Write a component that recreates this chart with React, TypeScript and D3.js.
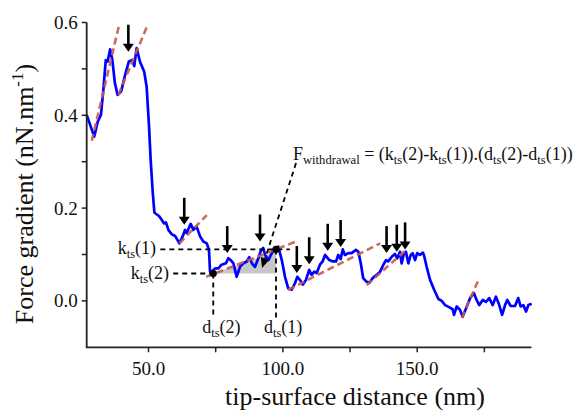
import React from "react";
import * as d3 from "d3";

// ---- data ----
const distance = [
  27.0, 29.8, 31.1, 32.3, 33.2, 34.1, 34.8, 35.7, 36.5, 37.5, 38.5, 39.8, 41.3, 42.7, 44.0, 44.7, 45.6, 46.8, 48.4, 49.3,
  50.2, 50.8, 51.6, 52.2, 53.9, 54.9, 55.8, 56.5, 57.4, 58.6, 59.9, 61.5, 62.7, 63.6, 64.2, 65.7, 66.7, 67.9, 69.2, 70.4,
  71.7, 72.5, 72.9, 73.5, 74.8, 76.0, 77.2, 78.8, 79.7, 80.6, 81.6, 82.8, 84.1, 85.3, 86.6, 87.5, 88.5, 89.6, 90.9, 91.8,
  92.7, 93.4, 94.6, 95.9, 96.7, 97.7, 98.3, 99.6, 100.8, 102.0, 103.3, 104.5, 105.4, 106.4, 107.4, 108.6, 109.8, 110.7,
  111.7, 112.6, 113.8, 114.8, 115.7, 116.3, 117.3, 118.6, 119.8, 120.6, 121.5, 122.3, 123.1, 124.4, 125.6, 127.2, 128.1,
  129.0, 129.9, 131.0, 132.2, 133.4, 134.9, 136.2, 137.4, 138.4, 139.2, 140.5, 141.7, 142.6, 143.6, 144.2, 145.1, 145.8,
  146.7, 147.6, 148.3, 149.2, 150.0, 151.0, 152.1, 152.5, 153.5, 154.8, 156.3, 157.9, 159.1, 160.4, 162.0, 163.2, 163.7,
  164.7, 165.9, 166.9, 168.2, 169.7, 171.1, 172.1, 173.1, 174.4, 175.6, 176.8, 178.1, 179.3, 180.3, 181.6, 182.7, 183.5,
  184.8, 186.4, 187.6, 188.5, 189.5, 190.5, 191.4, 192.6,
];
const gradient = [
  0.401, 0.354, 0.386, 0.401, 0.455, 0.519, 0.516, 0.542, 0.521, 0.469, 0.444, 0.451, 0.487, 0.516, 0.519, 0.506, 0.545, 0.516, 0.494, 0.462,
  0.376, 0.304, 0.232, 0.19, 0.183, 0.175, 0.167, 0.169, 0.153, 0.144, 0.14, 0.124, 0.139, 0.153, 0.146, 0.166, 0.153, 0.16, 0.139, 0.128,
  0.124, 0.11, 0.063, 0.063, 0.07, 0.07, 0.078, 0.081, 0.092, 0.088, 0.081, 0.052, 0.074, 0.081, 0.085, 0.094, 0.081, 0.073, 0.092, 0.108,
  0.114, 0.099, 0.088, 0.103, 0.111, 0.11, 0.117, 0.088, 0.052, 0.027, 0.024, 0.038, 0.052, 0.045, 0.035, 0.045, 0.067, 0.056,
  0.063, 0.06, 0.078, 0.085, 0.099, 0.095, 0.088, 0.085, 0.085, 0.099, 0.09, 0.111, 0.099, 0.103, 0.103, 0.11, 0.106,
  0.081, 0.049, 0.042, 0.039, 0.049, 0.056, 0.063, 0.078, 0.088, 0.085, 0.095, 0.101, 0.092, 0.106, 0.081, 0.103, 0.106,
  0.081, 0.099, 0.103, 0.088, 0.103, 0.099, 0.104, 0.099, 0.074, 0.045, 0.024, 0.004, 0.0, -0.009, -0.014, -0.018, -0.03,
  -0.012, -0.019, -0.034, -0.016, 0.006, 0.017, 0.002, -0.009, 0.002, -0.002, 0.006, -0.009, 0.009, -0.005, -0.03, -0.009, 0.002,
  -0.011, -0.011, 0.006, -0.012, -0.009, -0.023, -0.009, -0.006,
];

// linear fits (dashed red): [x1, y1, x2, y2]
const fitX1 = [28.9, 38.8, 61.5, 71.5, 102.0, 131.2, 166.6];
const fitY1 = [0.345, 0.444, 0.124, 0.052, 0.024, 0.034, -0.037];
const fitX2 = [39.0, 49.7, 71.7, 104.5, 136.2, 146.1, 172.7];
const fitY2 = [0.593, 0.595, 0.185, 0.127, 0.124, 0.111, 0.044];

// arrows: x position and tip value
const arrowX = [42.5, 63.3, 79.3, 91.5, 105.2, 109.8, 116.7, 121.5, 138.6, 142.4, 145.5];
const arrowTip = [0.537, 0.164, 0.103, 0.128, 0.06, 0.079, 0.108, 0.116, 0.103, 0.106, 0.111];

// annotation values
const kts1 = 0.111;
const kts2 = 0.059;
const dts1 = 97.45;
const dts2 = 74.1;
const kts1LineFrom = 54.4;
const kts1LineTo = 102.6;
const kts2LineFrom = 59.2;
const dtsLineBottom = -0.037;
const bigArrowFrom = [104.9, 0.297];
const bigArrowTo = [92.25, 0.071];

const xMajor = [50, 100, 150];
const xMinor = [75, 125, 175];
const yMajor = [0, 0.2, 0.4, 0.6];
const yMinor = [0.1, 0.3, 0.5];

const W = 588;
const H = 418;
const FONT = "'Liberation Serif', 'Times New Roman', serif";

export default function App() {
  const x = d3.scaleLinear().domain([27, 192.5]).range([86.7, 531.4]);
  const y = d3.scaleLinear().domain([-0.1, 0.6]).range([347.3, 22.5]);

  const pts: [number, number][] = distance.map((d, i) => [d, gradient[i]]);
  const line = d3
    .line<[number, number]>()
    .x((p) => x(p[0]))
    .y((p) => y(p[1]));

  const gray = `M${x(dts2)},${y(kts2)} L${x(dts1)},${y(kts1) + 2} L${x(dts1)},${y(kts2)} Z`;

  const bx1 = x(bigArrowFrom[0]);
  const by1 = y(bigArrowFrom[1]);
  const bx2 = x(bigArrowTo[0]);
  const by2 = y(bigArrowTo[1]);
  const ang = Math.atan2(by2 - by1, bx2 - bx1);
  const hl = 10;
  const hw = 4.5;
  const baseX = bx2 - hl * Math.cos(ang);
  const baseY = by2 - hl * Math.sin(ang);
  const px = -Math.sin(ang);
  const py = Math.cos(ang);

  const axisColor = "#222";
  const red = "#c85a50";

  return (
    <svg
      width={W}
      height={H}
      style={{ position: "absolute", left: 0, top: 0, background: "#fff" }}
      fontFamily={FONT}
    >
      {/* gray shaded area */}
      <path d={gray} fill="#bdbdbd" opacity={0.85} />

      {/* data line */}
      <path d={line(pts) || ""} fill="none" stroke="#0000ff" strokeWidth={2.7} strokeLinejoin="round" />

      {/* fits */}
      {fitX1.map((fx, i) => (
        <line
          key={"f" + i}
          x1={x(fx)}
          y1={y(fitY1[i])}
          x2={x(fitX2[i])}
          y2={y(fitY2[i])}
          stroke={red}
          strokeWidth={2.6}
          strokeDasharray="7,4"
          opacity={0.9}
        />
      ))}

      {/* black dashed guides */}
      <g stroke="#000" strokeWidth={1.8} strokeDasharray="5,4" fill="none">
        <line x1={x(kts1LineFrom)} y1={y(kts1)} x2={x(kts1LineTo)} y2={y(kts1)} />
        <line x1={x(kts2LineFrom)} y1={y(kts2)} x2={x(dts2)} y2={y(kts2)} />
        <line x1={x(dts2)} y1={y(kts2)} x2={x(dts2)} y2={y(dtsLineBottom)} />
        <line x1={x(dts1)} y1={y(kts1)} x2={x(dts1)} y2={y(dtsLineBottom)} />
        <line x1={bx1} y1={by1} x2={baseX} y2={baseY} />
      </g>
      <path
        d={`M${bx2},${by2} L${baseX + px * hw},${baseY + py * hw} L${baseX - px * hw},${baseY - py * hw} Z`}
        fill="#000"
      />
      <circle cx={x(dts2)} cy={y(kts2)} r={3.6} fill="#000" />
      <circle cx={x(dts1)} cy={y(kts1)} r={3.6} fill="#000" />

      {/* arrows */}
      {arrowX.map((ax, i) => {
        const cx = x(ax);
        const ty = y(arrowTip[i]);
        return (
          <g key={"a" + i}>
            <line x1={cx} y1={ty - 27} x2={cx} y2={ty - 7} stroke="#000" strokeWidth={2.6} />
            <path d={`M${cx - 5.5},${ty - 8} L${cx + 5.5},${ty - 8} L${cx},${ty} Z`} fill="#000" />
          </g>
        );
      })}

      {/* axes */}
      <line x1={x(27)} y1={y(0.6)} x2={x(27)} y2={y(-0.1)} stroke={axisColor} strokeWidth={1.8} />
      <line x1={x(27) - 0.9} y1={y(-0.1)} x2={x(192.5)} y2={y(-0.1)} stroke={axisColor} strokeWidth={1.8} />
      {yMajor.concat(yMinor).map((t) => (
        <line key={"yt" + t} x1={x(27) - 5} y1={y(t)} x2={x(27)} y2={y(t)} stroke={axisColor} strokeWidth={1.5} />
      ))}
      {xMajor.concat(xMinor).map((t) => (
        <line key={"xt" + t} x1={x(t)} y1={y(-0.1)} x2={x(t)} y2={y(-0.1) + 5} stroke={axisColor} strokeWidth={1.5} />
      ))}
      {yMajor.map((t) => (
        <text key={"yl" + t} x={x(27) - 9} y={y(t) + 6.5} fontSize={19} textAnchor="end" fill="#111">
          {t.toFixed(1)}
        </text>
      ))}
      {xMajor.map((t) => (
        <text key={"xl" + t} x={x(t)} y={374.5} fontSize={19} textAnchor="middle" fill="#111">
          {t.toFixed(1)}
        </text>
      ))}

      {/* axis titles */}
      <text x={355} y={405} fontSize={26} textAnchor="middle" fill="#111">
        tip-surface distance (nm)
      </text>
      <text transform="translate(33,194) rotate(-90)" fontSize={26} textAnchor="middle" fill="#111">
        Force gradient (nN.nm
        <tspan fontSize={17} dy={-10}>-1</tspan>
        <tspan dy={10}>)</tspan>
      </text>

      {/* annotation labels */}
      <g fontSize={18} fill="#111">
        <text x={156} y={y(kts1) + 5} textAnchor="end">
          k<tspan fontSize={12.5} dy={4}>ts</tspan>
          <tspan dy={-4}>(1)</tspan>
        </text>
        <text x={169} y={y(kts2) + 5.5} textAnchor="end">
          k<tspan fontSize={12.5} dy={4}>ts</tspan>
          <tspan dy={-4}>(2)</tspan>
        </text>
        <text x={x(dts2) - 11} y={333}>
          d<tspan fontSize={12.5} dy={4}>ts</tspan>
          <tspan dy={-4}>(2)</tspan>
        </text>
        <text x={x(dts1) - 12} y={333}>
          d<tspan fontSize={12.5} dy={4}>ts</tspan>
          <tspan dy={-4}>(1)</tspan>
        </text>
        <text x={293} y={159.5}>
          F<tspan fontSize={12.6} dy={4}>withdrawal</tspan>
          <tspan dy={-4}> = (k</tspan>
          <tspan fontSize={12.5} dy={4}>ts</tspan>
          <tspan dy={-4}>(2)-k</tspan>
          <tspan fontSize={12.5} dy={4}>ts</tspan>
          <tspan dy={-4}>(1)).(d</tspan>
          <tspan fontSize={12.5} dy={4}>ts</tspan>
          <tspan dy={-4}>(2)-d</tspan>
          <tspan fontSize={12.5} dy={4}>ts</tspan>
          <tspan dy={-4}>(1))</tspan>
        </text>
      </g>
    </svg>
  );
}
